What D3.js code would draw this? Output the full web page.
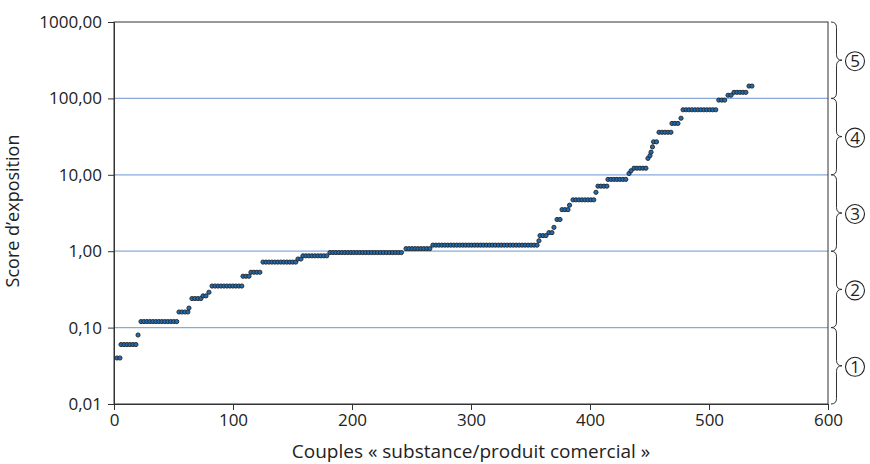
<head>
  <script src="https://d3js.org/d3.v7.min.js"></script>
</head>
<style>
  body { margin: 0; background: #fff; }
  text { font-family: "Open Sans", Lato, sans-serif; fill: #222; }
</style>
<body>
  <div id="div_chart">
    <svg id="svg_chart"/>
  </div>
</body>
<script>
  var w = 870;
  var h = 464;
  var margin = {top: 22, right: 42, bottom: 60, left: 114};

  // score levels (sorted), rank of the first dot of each level, number of dots at that level
  var scores     = [0.04, 0.06, 0.08, 0.12, 0.16, 0.18, 0.24, 0.26, 0.29, 0.35, 0.47, 0.53, 0.72, 0.79, 0.87, 0.96, 1.08, 1.2,
                    1.37, 1.6, 1.75, 2.05, 2.6, 3.5, 4.0, 4.7, 5.9, 7.1, 8.7, 10.4, 11.3, 12.2, 16.4, 17.8, 19.8, 23.2, 27,
                    36, 47, 55, 71, 95, 110, 120, 145];
  var firstRanks = [2.5, 5.9, 20.2, 22.7, 54.6, 63, 65.5, 74.8, 79.8, 82.4, 108.4, 115.1, 125.2, 154.6, 158.8, 181.5, 245.4, 268,
                    357.1, 358, 365.5, 369.7, 372.3, 376.5, 382.8, 385.7, 405, 406.7, 415.1, 432.8, 434.5, 437, 448.7, 450.4, 451.3, 452.5, 453.4,
                    458, 468.9, 476.5, 478.2, 508.2, 516, 521, 533.6];
  var dotCounts  = [2, 6, 1, 13, 4, 1, 4, 2, 1, 11, 3, 4, 12, 2, 9, 25, 9, 36,
                    1, 3, 2, 1, 2, 3, 1, 8, 1, 4, 7, 1, 1, 5, 1, 1, 1, 1, 2,
                    5, 3, 1, 12, 3, 2, 5, 2];
  var rankStep = 2.5;

  var yTicks = [0.01, 0.1, 1, 10, 100, 1000];
  var xTicks = [0, 100, 200, 300, 400, 500, 600];
  var classes = ["1", "2", "3", "4", "5"];

  var points = [];
  scores.forEach(function(s, i){
    for (var j = 0; j < dotCounts[i]; j++) points.push({x: firstRanks[i] + j*rankStep, y: s});
  });

  var iw = w - margin.left - margin.right;
  var ih = h - margin.top - margin.bottom;

  var svg = d3.select("svg#svg_chart")
      .attr("width", w)
      .attr("height", h);

  var g = svg.append("g")
      .attr("transform", "translate(" + margin.left + "," + margin.top + ")");

  var x = d3.scaleLinear().domain([0, 600]).range([0, iw]);
  var y = d3.scaleLog().domain([0.01, 1000]).range([ih, 0]);

  var fmt = function(d){ return d3.format(".2f")(d).replace(".", ","); };

  // grid lines
  g.selectAll("line.grid")
      .data(yTicks.slice(1, -1))
      .enter().append("line")
      .attr("class", "grid")
      .attr("x1", 0).attr("x2", iw)
      .attr("y1", function(d){ return y(d); })
      .attr("y2", function(d){ return y(d); })
      .style("stroke", "#8aa8dc")
      .style("stroke-width", 1.3);

  // frame
  g.append("rect")
      .attr("width", iw).attr("height", ih)
      .style("fill", "none")
      .style("stroke", "#333")
      .style("stroke-width", 1);

  var yAxis = g.append("g")
      .call(d3.axisLeft(y).tickValues(yTicks).tickFormat(fmt).tickSize(6).tickPadding(6));
  var xAxis = g.append("g")
      .attr("transform", "translate(0," + ih + ")")
      .call(d3.axisBottom(x).tickValues(xTicks).tickSize(6).tickPadding(4));

  [yAxis, xAxis].forEach(function(a){
    a.select(".domain").style("stroke", "#333");
    a.selectAll(".tick line").style("stroke", "#333");
    a.selectAll("text").style("font-size", "17px").style("font-family", "'Open Sans', sans-serif").attr("fill", "#222");
  });

  // points
  g.selectAll("circle.pt")
      .data(points)
      .enter().append("circle")
      .attr("class", "pt")
      .attr("cx", function(d){ return x(d.x); })
      .attr("cy", function(d){ return y(d.y); })
      .attr("r", 2.1)
      .style("fill", "#1f6db5")
      .style("stroke", "#222")
      .style("stroke-width", 0.9);

  // axis titles
  g.append("text")
      .attr("x", iw/2).attr("y", ih + 54)
      .attr("text-anchor", "middle")
      .style("font-size", "19px")
      .text("Couples « substance/produit comercial »");

  g.append("text")
      .attr("transform", "translate(" + (-95) + "," + (ih/2 - 2) + ") rotate(-90)")
      .attr("text-anchor", "middle")
      .style("font-size", "18px")
      .text("Score d’exposition");

  // braces for the five classes, one per decade
  function brace(bx, y0, y1, bw){
    var m = (y0 + y1)/2, c = bw/2;
    return "M" + bx + "," + y0 + " Q" + (bx+c) + "," + y0 + " " + (bx+c) + "," + (y0+c) +
           " L" + (bx+c) + "," + (m-c) + " Q" + (bx+c) + "," + m + " " + (bx+bw) + "," + m +
           " Q" + (bx+c) + "," + m + " " + (bx+c) + "," + (m+c) +
           " L" + (bx+c) + "," + (y1-c) + " Q" + (bx+c) + "," + y1 + " " + bx + "," + y1;
  }

  var cls = g.selectAll("g.cls")
      .data(classes)
      .enter().append("g")
      .attr("class", "cls");

  cls.append("path")
      .attr("d", function(d, i){ return brace(iw + 3, y(yTicks[i+1]), y(yTicks[i]), 11); })
      .style("fill", "none")
      .style("stroke", "#333")
      .style("stroke-width", 1);

  cls.append("circle")
      .attr("cx", iw + 27)
      .attr("cy", function(d, i){ return (y(yTicks[i]) + y(yTicks[i+1]))/2 + 1; })
      .attr("r", 9.5)
      .style("fill", "none")
      .style("stroke", "#222")
      .style("stroke-width", 1.1);

  cls.append("text")
      .attr("x", iw + 27)
      .attr("y", function(d, i){ return (y(yTicks[i]) + y(yTicks[i+1]))/2 + 7; })
      .attr("text-anchor", "middle")
      .style("font-size", "17px")
      .text(function(d){ return d; });
</script>
